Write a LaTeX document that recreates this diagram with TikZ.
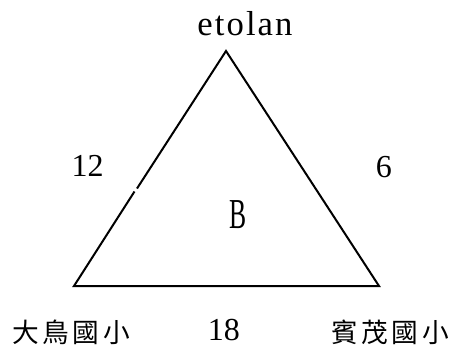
\documentclass[tikz,border=0pt]{standalone}
\usepackage{fontspec}
\usepackage{graphicx}
\setmainfont{Liberation Serif}
\newfontfamily\cjk[LetterSpace=14]{Noto Sans CJK TC}
\newfontfamily\spaced[LetterSpace=6]{Liberation Serif}
\tikzset{
  edge/.style={line width=1.5pt},
  num/.style={anchor=base,inner sep=0pt,font=\fontsize{24}{28}\selectfont},
  place/.style={inner sep=0pt,font=\fontsize{20}{24}\selectfont\cjk}
}

\begin{document}
\begin{tikzpicture}[x=0.75pt,y=-0.75pt]
\useasboundingbox (0,0) rectangle (455,347);
% corners of the triangle
\coordinate (top) at (226,51);
\coordinate (left) at (74,286);
\coordinate (right) at (379,286);
\coordinate (brk1) at (134.5,191.5);
\coordinate (brk2) at (137,188.5);
\draw[edge] (brk2) -- (top) -- (right) -- (left) -- (brk1);
% labels
\node[anchor=base,inner sep=0pt,font=\fontsize{26}{30}\selectfont\spaced] (etolan) at (245,35) {etolan};
\node[num] (w12) at (87.7,176.7) {12};
\node[num] (w6) at (384,177) {6};
\node[num] (w18) at (224,340) {18};
\node[num,font=\fontsize{32}{36}\selectfont] (b) at (238,228.3) {\scalebox{0.6}[1]{B}};
\node[place] (dawu) at (71,332) {大鳥國小};
\node[place] (binmao) at (390,332) {賓茂國小};
\end{tikzpicture}
\end{document}
